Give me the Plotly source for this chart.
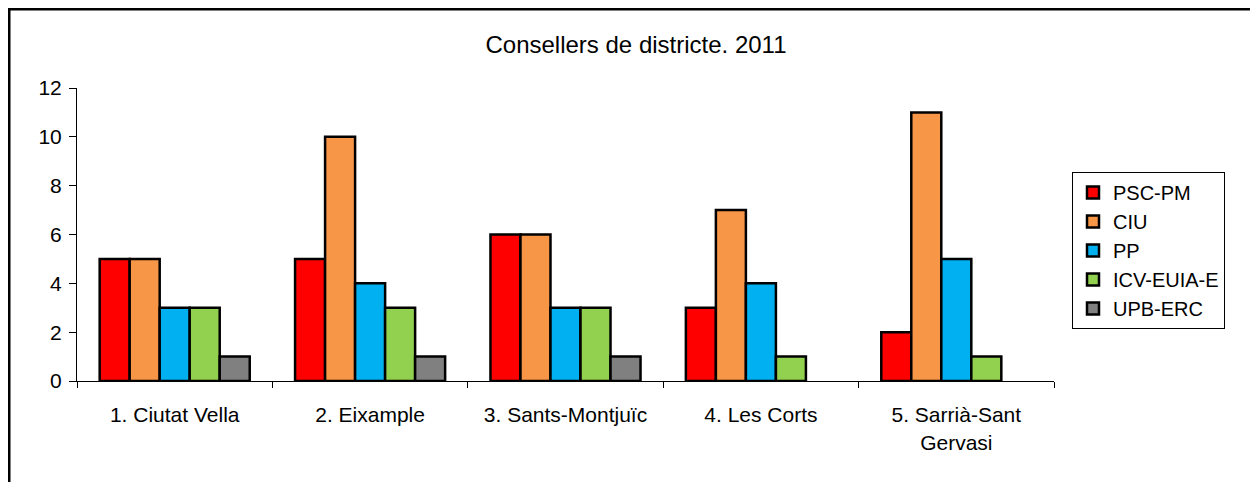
"""Consellers de districte 2011 - gràfic de barres agrupades"""
import plotly.graph_objects as go

districtes = [
    "1. Ciutat Vella",
    "2. Eixample",
    "3. Sants-Montjuïc",
    "4. Les Corts",
    "5. Sarrià-Sant<br>Gervasi",
]

partits = ["PSC-PM", "CIU", "PP", "ICV-EUIA-E", "UPB-ERC"]
colors = ["#ff0000", "#f79646", "#00b0f0", "#92d050", "#808080"]

psc_pm = [5, 5, 6, 3, 2]
ciu = [5, 10, 6, 7, 11]
pp = [3, 4, 3, 4, 5]
icv_euia_e = [3, 3, 3, 1, 1]
upb_erc = [1, 1, 1, 0, 0]

series = [psc_pm, ciu, pp, icv_euia_e, upb_erc]

FONT = "Liberation Sans, Arial, sans-serif"

# la pàgina té 8px de marge al body
OFF = 8
W, H = 1258 - 2 * OFF, 490 - 2 * OFF
# posicions de l'àrea de dibuix a la imatge de referència
PL, PR, PT, PB = 77, 1054, 88, 381
pw, ph = PR - PL, PB - PT

fig = go.Figure()

for nom, vals, col in zip(partits, series, colors):
    fig.add_trace(go.Bar(
        x=districtes,
        y=[v if v else None for v in vals],  # Excel no dibuixa les barres a 0
        name=nom,
        legendgroup=nom,
        marker=dict(color=col, line=dict(color="black", width=2.5)),
    ))

fig.update_layout(
    width=W,
    height=H,
    paper_bgcolor="white",
    plot_bgcolor="white",
    font=dict(family=FONT, size=21, color="black"),
    barmode="group",
    bargap=0.232,
    bargroupgap=0,
    margin=dict(l=PL - OFF, r=W - (PR - OFF), t=PT - OFF, b=H - (PB - OFF), pad=0),
    title=dict(
        text="Consellers de districte. 2011",
        font=dict(family=FONT, size=24, color="black"),
        x=(636 - OFF) / W, xref="container", xanchor="center",
        y=1 - (45 - OFF) / H, yref="container", yanchor="middle",
    ),
    showlegend=True,
    legend=dict(
        x=(1072 - PL) / pw, xanchor="left",
        y=(PB - 172) / ph, yanchor="top",
        bgcolor="white",
        bordercolor="black",
        borderwidth=1,
        font=dict(family=FONT, size=20, color="black"),
        tracegroupgap=11,
        traceorder="normal",
        entrywidth=150,
    ),
    xaxis=dict(
        showline=True, linecolor="black", linewidth=1,
        showgrid=False, zeroline=False,
        ticks="outside", tickson="boundaries", ticklen=6, tickcolor="black",
        ticklabelstandoff=15,
        tickfont=dict(family=FONT, size=21, color="black"),
    ),
    yaxis=dict(
        range=[0, 12], dtick=2,
        showline=True, linecolor="black", linewidth=1,
        showgrid=False, zeroline=False,
        ticks="outside", ticklen=7, tickcolor="black",
        ticklabelstandoff=3,
        tickfont=dict(family=FONT, size=21, color="black"),
    ),
    shapes=[dict(
        type="rect", xref="paper", yref="paper",
        x0=(9 - PL) / pw, x1=1.5,
        y0=-1.0, y1=(PB - 9) / ph,
        line=dict(color="black", width=3),
        fillcolor="rgba(0,0,0,0)",
        layer="below",
    )],
)

fig.write_html("out.html")
